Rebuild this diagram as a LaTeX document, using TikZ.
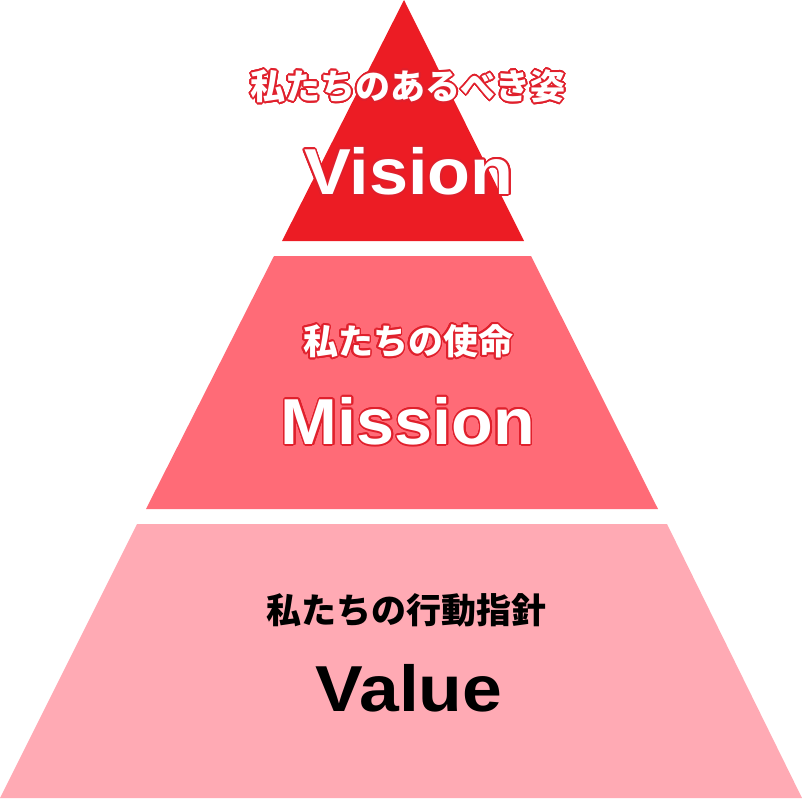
\documentclass[tikz,border=0pt]{standalone}
\usepackage{fontspec}
\usepackage[copies]{contour}
\setmainfont{Liberation Sans}
\newfontfamily\jpfont{Noto Sans CJK JP}[BoldFont={* Black}]
\definecolor{visionred}{HTML}{EC1C24}
\definecolor{edgered}{HTML}{E0202C}
\definecolor{missionred}{HTML}{FF6B77}
\definecolor{valuepink}{HTML}{FFAAB4}
\contourlength{1.6pt}
\contournumber{24}
\tikzset{
  jplabel/.style={font=\jpfont\bfseries\fontsize{35}{40}\selectfont},
  enlabel/.style={font=\bfseries\fontsize{65}{70}\selectfont},
}
\begin{document}
\begin{tikzpicture}[x=1pt,y=-1pt]
  \useasboundingbox (0,0) rectangle (802,798);
  % tiers
  \fill[visionred] (404,0) -- (524,241) -- (282,241) -- cycle;
  \fill[missionred] (274,256) -- (531,256) -- (658,509) -- (146,509) -- cycle;
  \fill[valuepink] (137,524) -- (667,524) -- (802,798) -- (0,798) -- cycle;
  % labels
  \node[jplabel, text=white] (visionjp) at (408,87) {\contour{edgered}{私たちのあるべき姿}};
  \node[enlabel, text=white] (visionen) at (409,172) {\contour{edgered}{\scalebox{1.08}[1]{Vision}}};
  \node[jplabel, text=white] (missionjp) at (408,342) {\contour{edgered}{私たちの使命}};
  \node[enlabel, text=white] (missionen) at (408,422) {\contour{edgered}{\scalebox{1.05}[1]{Mission}}};
  \node[jplabel, text=black] (valuejp) at (406,610) {私たちの行動指針};
  \node[enlabel, text=black] (valueen) at (409,688) {\scalebox{1.1}[1]{Value}};
\end{tikzpicture}
\end{document}
